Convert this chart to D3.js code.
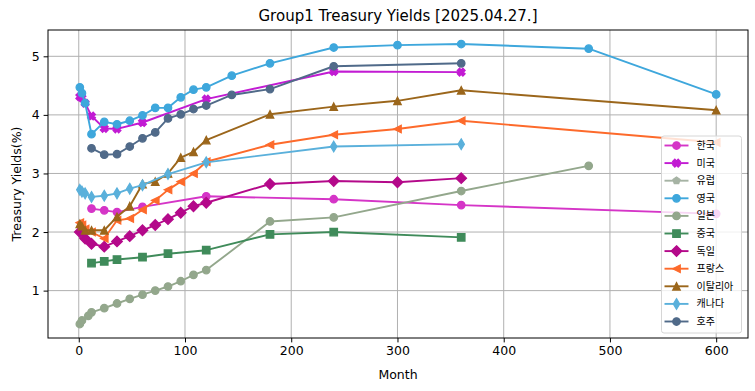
<!DOCTYPE html>
<html>
<head>
<meta charset="utf-8">
<script src="https://cdn.jsdelivr.net/npm/d3@7"></script>
<style>
    body { margin: 0; background: #fff; }
    svg text { font-family: "DejaVu Sans", sans-serif; fill: #000; }
    .legend text { font-family: "Noto Sans CJK KR", sans-serif; }
</style>
</head>
<body>
<svg id="chart" width="755" height="391"></svg>
<script>
// Series names (legend order)
const countries = ['한국', '미국', '유럽', '영국', '일본', '중국', '독일', '프랑스', '이탈리아', '캐나다', '호주'];

// Maturities in months and yields in %, one pair per country
const monthsKR = [12, 24, 36, 60, 120, 240, 360, 600];
const yieldsKR = [2.40, 2.37, 2.34, 2.43, 2.61, 2.56, 2.46, 2.31];

const monthsUS = [1, 3, 6, 12, 24, 36, 60, 120, 240, 360];
const yieldsUS = [4.31, 4.29, 4.20, 3.98, 3.77, 3.76, 3.87, 4.27, 4.74, 4.73];

const monthsEU = [];
const yieldsEU = [];

const monthsUK = [1, 3, 6, 12, 24, 36, 48, 60, 72, 84, 96, 108, 120, 144, 180, 240, 300, 360, 480, 600];
const yieldsUK = [4.47, 4.37, 4.20, 3.67, 3.88, 3.84, 3.90, 3.99, 4.12, 4.12, 4.30, 4.43, 4.47, 4.67, 4.88, 5.15, 5.19, 5.21, 5.13, 4.35];

const monthsJP = [1, 3, 9, 12, 24, 36, 48, 60, 72, 84, 96, 108, 120, 180, 240, 360, 480];
const yieldsJP = [0.43, 0.49, 0.57, 0.63, 0.70, 0.78, 0.86, 0.93, 1.00, 1.07, 1.16, 1.27, 1.35, 2.18, 2.25, 2.70, 3.13];

const monthsCN = [12, 24, 36, 60, 84, 120, 180, 240, 360];
const yieldsCN = [1.47, 1.50, 1.53, 1.57, 1.63, 1.69, 1.96, 2.00, 1.91];

const monthsDE = [1, 6, 12, 24, 36, 48, 60, 72, 84, 96, 108, 120, 180, 240, 300, 360];
const yieldsDE = [2.00, 1.89, 1.80, 1.75, 1.84, 1.93, 2.03, 2.12, 2.22, 2.33, 2.44, 2.50, 2.82, 2.87, 2.85, 2.92];

const monthsFR = [1, 3, 6, 12, 24, 36, 48, 60, 72, 84, 96, 108, 120, 180, 240, 300, 360, 600];
const yieldsFR = [2.16, 2.12, 2.05, 2.00, 1.89, 2.20, 2.23, 2.38, 2.54, 2.72, 2.86, 3.00, 3.20, 3.49, 3.66, 3.76, 3.90, 3.53];

const monthsIT = [1, 3, 6, 12, 24, 36, 48, 60, 72, 84, 96, 108, 120, 180, 240, 300, 360, 600];
const yieldsIT = [2.14, 2.10, 2.03, 2.03, 2.03, 2.26, 2.44, 2.82, 2.86, 3.00, 3.27, 3.37, 3.57, 4.01, 4.14, 4.24, 4.42, 4.08];

const monthsCA = [1, 3, 6, 12, 24, 36, 48, 60, 84, 120, 240, 360];
const yieldsCA = [2.72, 2.69, 2.66, 2.60, 2.62, 2.66, 2.74, 2.80, 2.99, 3.19, 3.46, 3.50];

const monthsAU = [12, 24, 36, 48, 60, 72, 84, 96, 108, 120, 144, 180, 240, 360];
const yieldsAU = [3.43, 3.32, 3.33, 3.46, 3.60, 3.70, 3.94, 4.01, 4.10, 4.16, 4.34, 4.44, 4.83, 4.88];

const yTicks = [1, 2, 3, 4, 5];
const xTicks = [0, 100, 200, 300, 400, 500, 600];

// Line colors and marker types, same order as countries
const colors = ['#d535c7', '#c21bd3', '#a6b3a4', '#3ea7dc', '#93a78c', '#3f8b5a', '#b4098a', '#fd6a2b', '#9b661b', '#5ab0db', '#506a89'];
const markers = ['o', 'X', 'p', 'o', 'o', 's', 'D', '<', '^', 'd', 'o'];

const allMonths = [monthsKR, monthsUS, monthsEU, monthsUK, monthsJP, monthsCN, monthsDE, monthsFR, monthsIT, monthsCA, monthsAU];
const allYields = [yieldsKR, yieldsUS, yieldsEU, yieldsUK, yieldsJP, yieldsCN, yieldsDE, yieldsFR, yieldsIT, yieldsCA, yieldsAU];

let series = countries.map(function (name, i) {
    return {
        name: name,
        color: colors[i],
        marker: markers[i],
        points: allMonths[i].map(function (m, j) { return { x: m, y: allYields[i][j] }; })
    };
});

// Marker shapes as svg paths, s = marker size in px
function markerPath(type, s) {
    let h = s / 2;
    let pts;
    switch (type) {
        case 'o':
            return d3.symbol().type(d3.symbolCircle).size(Math.PI * h * h)();
        case 's':
            pts = [[-h, -h], [h, -h], [h, h], [-h, h]];
            break;
        case 'D':
            pts = [[0, -h * 1.414], [h * 1.414, 0], [0, h * 1.414], [-h * 1.414, 0]];
            break;
        case 'd':
            pts = [[0, -h * 1.414], [h * 0.85, 0], [0, h * 1.414], [-h * 0.85, 0]];
            break;
        case '^':
            pts = [[0, -h], [h, h], [-h, h]];
            break;
        case '<':
            pts = [[-h, 0], [h, -h], [h, h]];
            break;
        case 'p':
            pts = d3.range(5).map(function (k) {
                let a = -Math.PI / 2 + k * 2 * Math.PI / 5;
                return [h * Math.cos(a), h * Math.sin(a)];
            });
            break;
        case 'X': {
            let w = h * 0.42, l = h * 1.05;
            let plus = [[-w, -l], [w, -l], [w, -w], [l, -w], [l, w], [w, w], [w, l], [-w, l], [-w, w], [-l, w], [-l, -w], [-w, -w]];
            pts = plus.map(function (p) {
                let c = Math.SQRT1_2;
                return [(p[0] - p[1]) * c, (p[0] + p[1]) * c];
            });
            break;
        }
    }
    return 'M' + pts.map(function (p) { return p[0].toFixed(2) + ',' + p[1].toFixed(2); }).join('L') + 'Z';
}

let svg = d3.select('#chart');

let margin = { top: 30, right: 7, bottom: 53, left: 48 };
let width = 755 - margin.left - margin.right;
let height = 391 - margin.top - margin.bottom;

// Domains like matplotlib: data range plus 5% on each side
let xs = series.flatMap(function (d) { return d.points.map(function (p) { return p.x; }); });
let ys = series.flatMap(function (d) { return d.points.map(function (p) { return p.y; }); });
let xMin = d3.min(xs), xMax = d3.max(xs);
let yMin = d3.min(ys), yMax = d3.max(ys);
let xPad = (xMax - xMin) * 0.05, yPad = (yMax - yMin) * 0.05;

let x = d3.scaleLinear().domain([xMin - xPad, xMax + xPad]).range([0, width]);
let y = d3.scaleLinear().domain([yMin - yPad, yMax + yPad]).range([height, 0]);

let g = svg.append('g').attr('transform', 'translate(' + margin.left + ',' + margin.top + ')');

// Grid
g.append('g').selectAll('line').data(xTicks).join('line')
    .attr('x1', function (d) { return x(d); }).attr('x2', function (d) { return x(d); })
    .attr('y1', 0).attr('y2', height)
    .attr('stroke', '#b0b0b0').attr('stroke-width', 1);
g.append('g').selectAll('line').data(yTicks).join('line')
    .attr('y1', function (d) { return y(d); }).attr('y2', function (d) { return y(d); })
    .attr('x1', 0).attr('x2', width)
    .attr('stroke', '#b0b0b0').attr('stroke-width', 1);

// Lines and markers
let line = d3.line()
    .x(function (d) { return x(d.x); })
    .y(function (d) { return y(d.y); });

series.forEach(function (s) {
    let sg = g.append('g');
    sg.append('path')
        .datum(s.points)
        .attr('d', line)
        .attr('fill', 'none')
        .attr('stroke', s.color)
        .attr('stroke-width', 1.9)
        .attr('stroke-linejoin', 'round')
        .attr('stroke-linecap', 'square');
    sg.selectAll('path.mk').data(s.points).join('path')
        .attr('class', 'mk')
        .attr('d', markerPath(s.marker, 7.5))
        .attr('transform', function (d) { return 'translate(' + x(d.x) + ',' + y(d.y) + ')'; })
        .attr('fill', s.color)
        .attr('stroke', s.color)
        .attr('stroke-width', 1.25);
});

// Axes
let xAxis = g.append('g')
    .attr('transform', 'translate(0,' + height + ')')
    .call(d3.axisBottom(x).tickValues(xTicks).tickSize(4.4).tickPadding(4).tickFormat(d3.format('d')));
let yAxis = g.append('g')
    .call(d3.axisLeft(y).tickValues(yTicks).tickSize(4.4).tickPadding(4).tickFormat(d3.format('d')));
[xAxis, yAxis].forEach(function (a) {
    a.select('.domain').remove();
    a.selectAll('text').attr('font-size', 12.5).attr('font-family', '"DejaVu Sans", sans-serif').attr('fill', '#000');
    a.selectAll('line').attr('stroke', '#000').attr('stroke-width', 1);
});

// Frame
g.append('rect')
    .attr('width', width).attr('height', height)
    .attr('fill', 'none').attr('stroke', '#000').attr('stroke-width', 1);

// Title and axis labels
svg.append('text')
    .attr('x', margin.left + width / 2).attr('y', 21)
    .attr('text-anchor', 'middle').attr('font-size', 15)
    .text('Group1 Treasury Yields [2025.04.27.]');
svg.append('text')
    .attr('x', margin.left + width / 2).attr('y', 379)
    .attr('text-anchor', 'middle').attr('font-size', 12.5)
    .text('Month');
svg.append('text')
    .attr('transform', 'translate(21,' + (margin.top + height / 2) + ') rotate(-90)')
    .attr('text-anchor', 'middle').attr('font-size', 12.5)
    .text('Treasury Yields(%)');

// Legend
let legend = svg.append('g').attr('class', 'legend').attr('transform', 'translate(661.5,136)');
legend.append('rect')
    .attr('width', 80).attr('height', 197).attr('rx', 2.5)
    .attr('fill', '#fff').attr('fill-opacity', 0.8)
    .attr('stroke', '#d6d6d6').attr('stroke-width', 1);
series.forEach(function (s, i) {
    let row = legend.append('g').attr('transform', 'translate(0,' + (9.5 + i * 17.6) + ')');
    row.append('line')
        .attr('x1', 3).attr('x2', 27)
        .attr('stroke', s.color).attr('stroke-width', 1.9);
    row.append('path')
        .attr('d', markerPath(s.marker, 7.5))
        .attr('transform', 'translate(15,0)')
        .attr('fill', s.color).attr('stroke', s.color).attr('stroke-width', 1.25);
    row.append('text')
        .attr('x', 35).attr('y', 0).attr('dy', '0.35em')
        .attr('font-size', 10)
        .text(s.name);
});
</script>
</body>
</html>
